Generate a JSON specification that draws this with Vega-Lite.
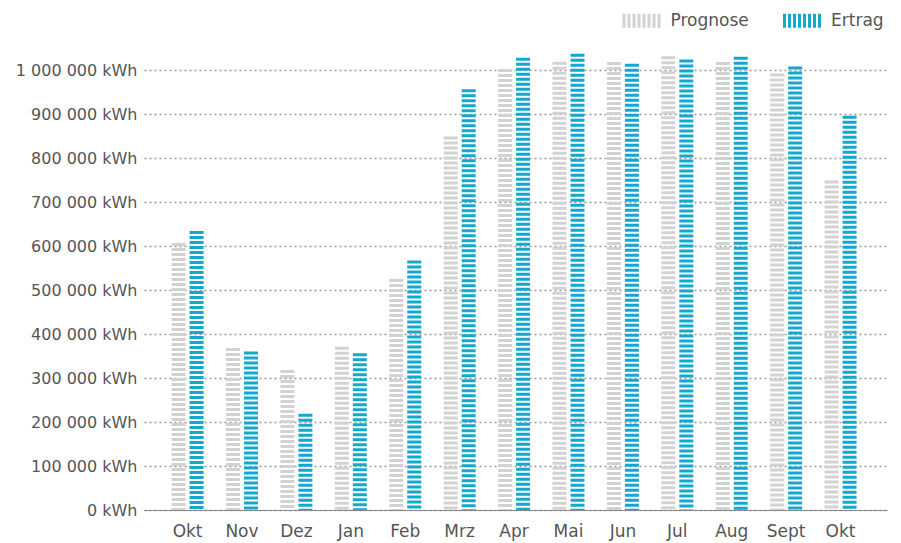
{
  "$schema": "https://vega.github.io/schema/vega-lite/v6.json",
  "width": 743,
  "height": 462,
  "autosize": {"type": "none"},
  "padding": {"left": 144, "top": 48, "right": 14, "bottom": 33},
  "background": "white",
  "config": {
    "view": {"stroke": null},
    "font": "DejaVu Sans"
  },
  "data": {
    "values": [
      {"m": "Okt", "s": "Prognose", "v": 607000}, {"m": "Okt", "s": "Ertrag", "v": 634000},
      {"m": "Nov", "s": "Prognose", "v": 368000}, {"m": "Nov", "s": "Ertrag", "v": 360000},
      {"m": "Dez", "s": "Prognose", "v": 318000}, {"m": "Dez", "s": "Ertrag", "v": 219000},
      {"m": "Jan", "s": "Prognose", "v": 371000}, {"m": "Jan", "s": "Ertrag", "v": 356000},
      {"m": "Feb", "s": "Prognose", "v": 525000}, {"m": "Feb", "s": "Ertrag", "v": 567000},
      {"m": "Mrz", "s": "Prognose", "v": 849000}, {"m": "Mrz", "s": "Ertrag", "v": 956000},
      {"m": "Apr", "s": "Prognose", "v": 1002000}, {"m": "Apr", "s": "Ertrag", "v": 1028000},
      {"m": "Mai", "s": "Prognose", "v": 1019000}, {"m": "Mai", "s": "Ertrag", "v": 1037000},
      {"m": "Jun", "s": "Prognose", "v": 1018000}, {"m": "Jun", "s": "Ertrag", "v": 1014000},
      {"m": "Jul", "s": "Prognose", "v": 1031000}, {"m": "Jul", "s": "Ertrag", "v": 1024000},
      {"m": "Aug", "s": "Prognose", "v": 1018000}, {"m": "Aug", "s": "Ertrag", "v": 1030000},
      {"m": "Sept", "s": "Prognose", "v": 992000}, {"m": "Sept", "s": "Ertrag", "v": 1008000},
      {"m": "Okt2", "s": "Prognose", "v": 749000}, {"m": "Okt2", "s": "Ertrag", "v": 896000}
    ]
  },
  "encoding": {
    "x": {
      "field": "m", "type": "nominal", "sort": null,
      "scale": {"paddingInner": 0, "paddingOuter": 0.327, "align": 0.46},
      "axis": {
        "title": null, "labelAngle": 0, "ticks": false,
        "domainColor": "#8a8a8a", "domainWidth": 1,
        "labelFontSize": 17, "labelColor": "#555555",
        "labelPadding": 13,
        "labelExpr": "replace(datum.label, '2', '')"
      }
    },
    "y": {
      "field": "v", "type": "quantitative",
      "scale": {"domain": [0, 1050000], "nice": false},
      "axis": {
        "title": null, "domain": false, "ticks": false,
        "values": [0, 100000, 200000, 300000, 400000, 500000, 600000, 700000, 800000, 900000, 1000000],
        "labelFontSize": 16, "labelColor": "#555555",
        "labelPadding": 7,
        "labelExpr": "replace(replace(format(datum.value, ','), ',', ' '), ',', ' ') + ' kWh'",
        "gridColor": "#999999", "gridDash": [2, 3], "gridWidth": 1.5
      }
    },
    "y2": {"datum": 0},
    "color": {
      "field": "s", "type": "nominal",
      "scale": {"domain": ["Prognose", "Ertrag"], "range": ["#d2d2d2", "#14a8cf"]},
      "legend": {
        "title": null, "orient": "none", "direction": "horizontal",
        "legendX": 488, "legendY": -37,
        "symbolType": "M-2,-0.737h0.316v1.474h-0.316z M-1.474,-0.737h0.316v1.474h-0.316z M-0.947,-0.737h0.316v1.474h-0.316z M-0.421,-0.737h0.316v1.474h-0.316z M0.105,-0.737h0.316v1.474h-0.316z M0.632,-0.737h0.316v1.474h-0.316z M1.158,-0.737h0.316v1.474h-0.316z M1.684,-0.737h0.316v1.474h-0.316z",
        "symbolSize": 361,
        "labelFontSize": 17, "labelColor": "#555555",
        "labelOffset": 19.5, "columnPadding": 33.5,
        "encode": {
          "symbols": {"update": {"fill": {"scale": "color", "field": "value"}, "strokeWidth": {"value": 0}, "opacity": {"value": 1}, "fillOpacity": {"value": 1}}}
        }
      }
    }
  },
  "layer": [
    {
      "transform": [{"filter": "datum.s == 'Prognose'"}],
      "mark": {"type": "rule", "strokeWidth": 14, "strokeDash": [3, 2], "strokeCap": "butt", "xOffset": -9}
    },
    {
      "transform": [{"filter": "datum.s == 'Ertrag'"}],
      "mark": {"type": "rule", "strokeWidth": 14, "strokeDash": [3, 2], "strokeCap": "butt", "xOffset": 9}
    }
  ]
}
